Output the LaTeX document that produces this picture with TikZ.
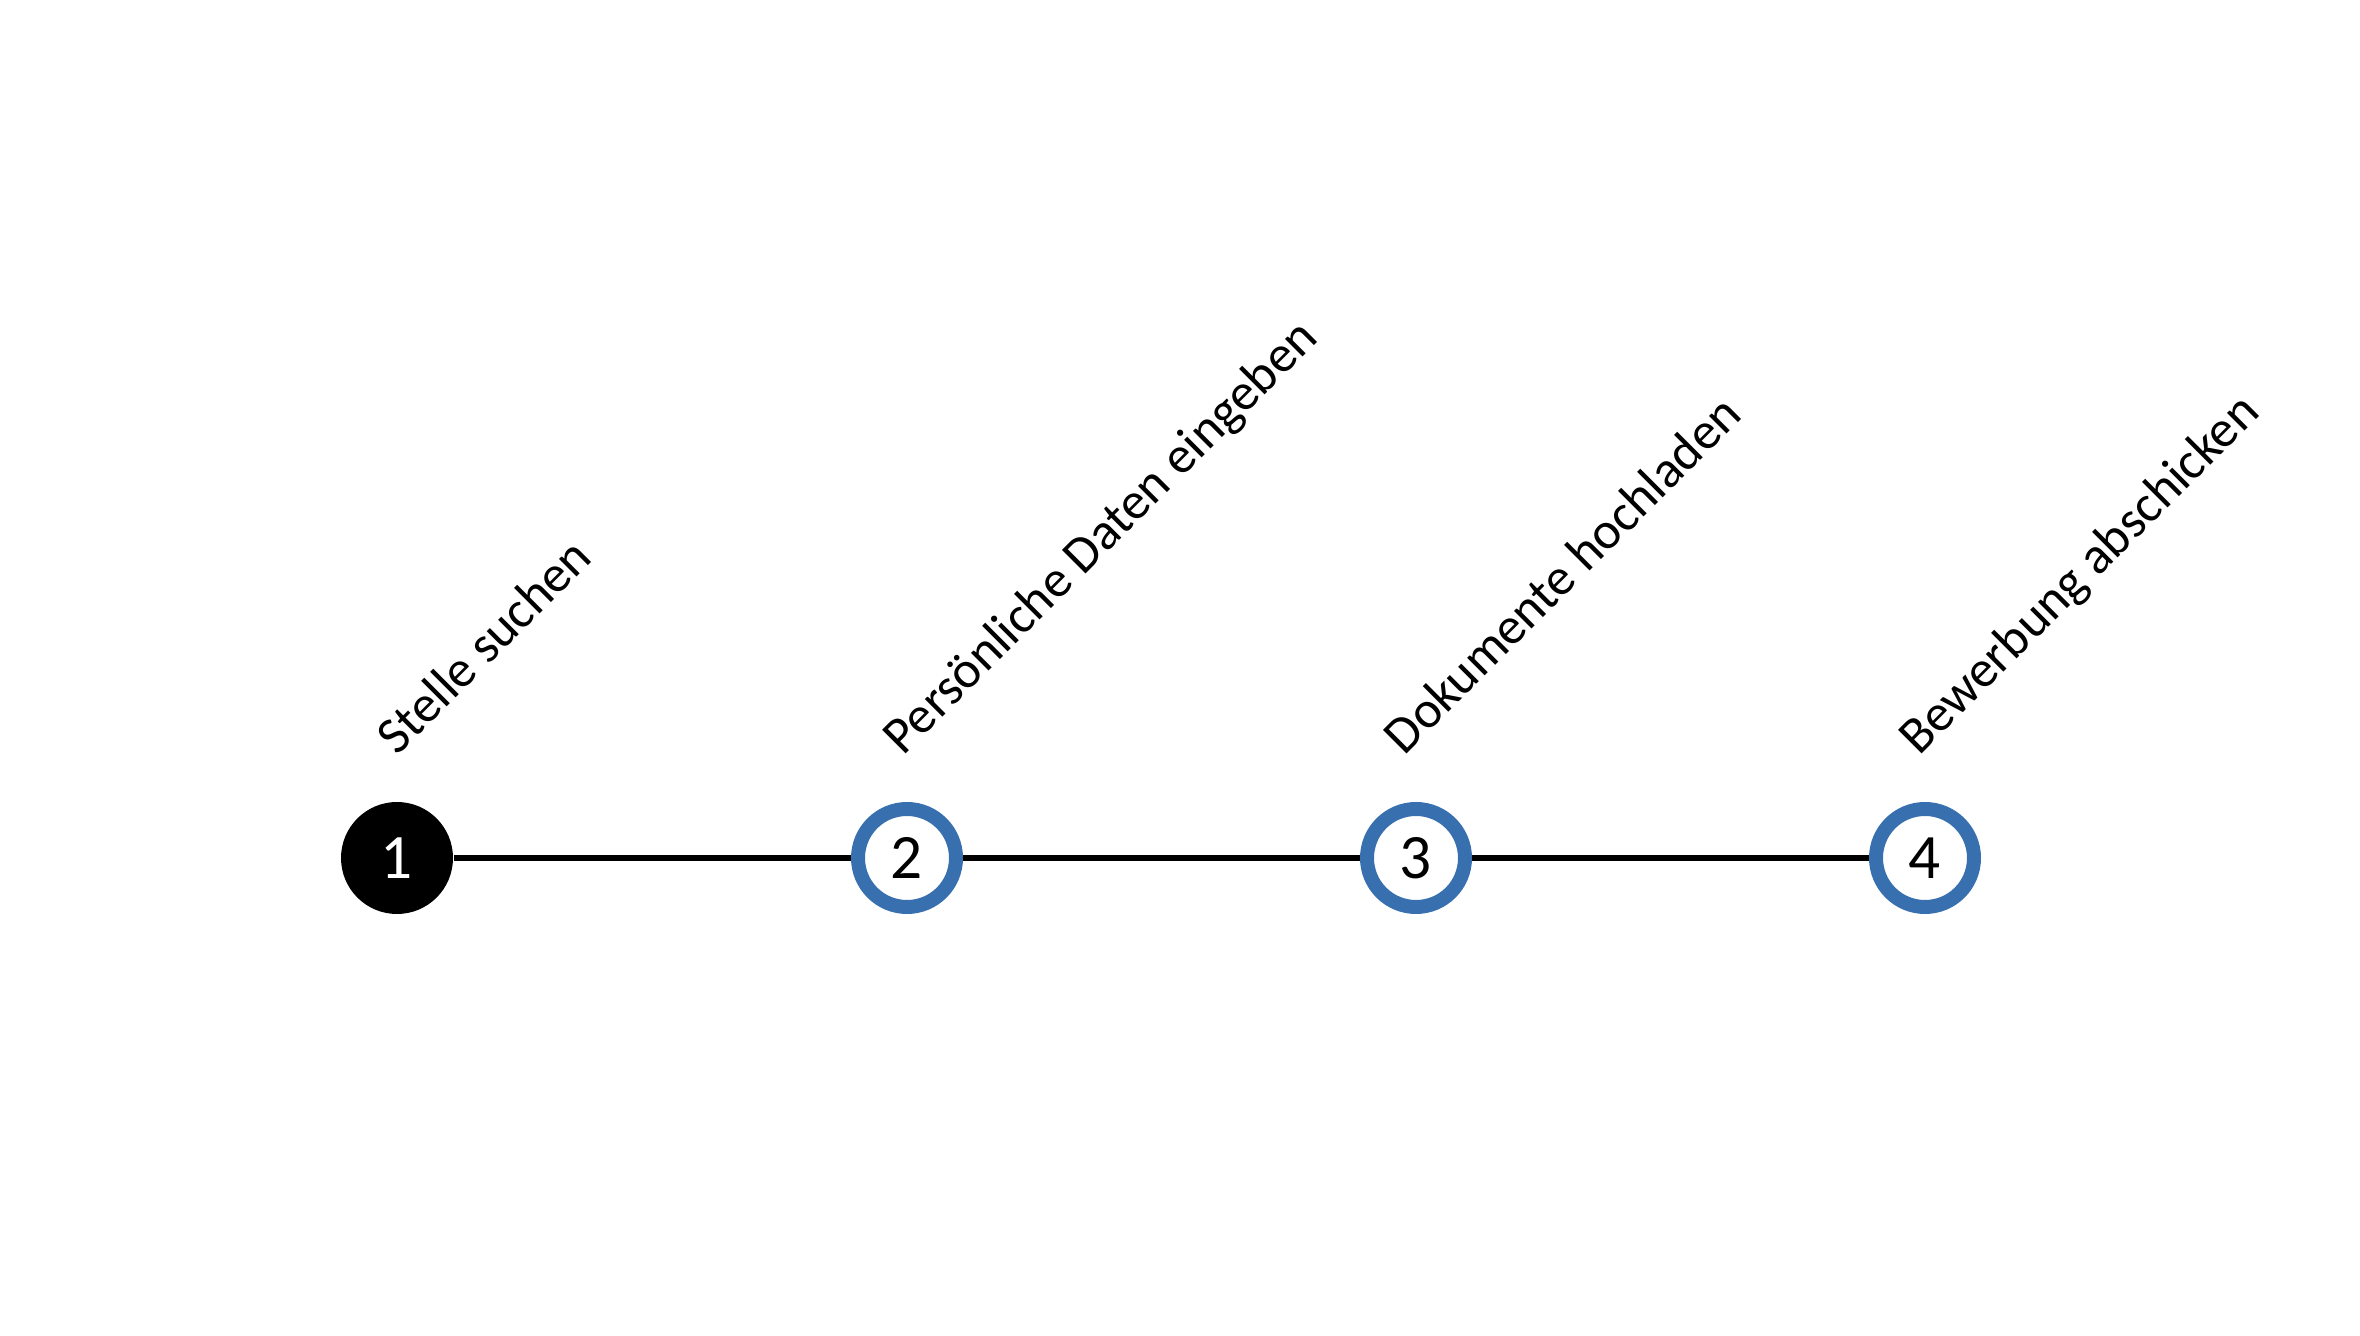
\documentclass[tikz,border=0pt]{standalone}
\usepackage{fontspec}
\setmainfont{Carlito}
\definecolor{stepblue}{RGB}{56,112,175}
\begin{document}
\begin{tikzpicture}[stepdone/.style = {circle,fill=black,minimum size=11.2mm,inner sep=0pt,text=white,font=\fontsize{18}{20}\selectfont},
                    stepopen/.style = {circle,draw=stepblue,line width=1.4mm,fill=white,minimum size=9.8mm,inner sep=0pt,font=\fontsize{18}{20}\selectfont},
                    steplabel/.style = {rotate=45,anchor=base west,inner sep=0pt,font=\fontsize{14.8}{17}\selectfont}]
                    \useasboundingbox (0,0) rectangle (23.6,13.36);

                    % Steps
                    \node [stepdone] (s1) at (3.97,4.78) {1};
                    \node [stepopen] (s2) at (9.07,4.78) {2};
                    \node [stepopen] (s3) at (14.16,4.78) {3};
                    \node [stepopen] (s4) at (19.25,4.78) {4};

                    % Line
                    \draw [line width=1.8pt] (s1) -- (s2);
                    \draw [line width=1.8pt] (s2) -- (s3);
                    \draw [line width=1.8pt] (s3) -- (s4);

                    % Labels
                    \node [steplabel] (l1) at ([xshift=0mm,yshift=10.1mm]s1.center) {Stelle suchen};
                    \node [steplabel] (l2) at ([xshift=-0.4mm,yshift=10.1mm]s2.center) {Persönliche Daten eingeben};
                    \node [steplabel] (l3) at ([xshift=-1.2mm,yshift=10.1mm]s3.center) {Dokumente hochladen};
                    \node [steplabel] (l4) at ([xshift=-0.6mm,yshift=10.1mm]s4.center) {Bewerbung abschicken};
                \end{tikzpicture}
\end{document}
